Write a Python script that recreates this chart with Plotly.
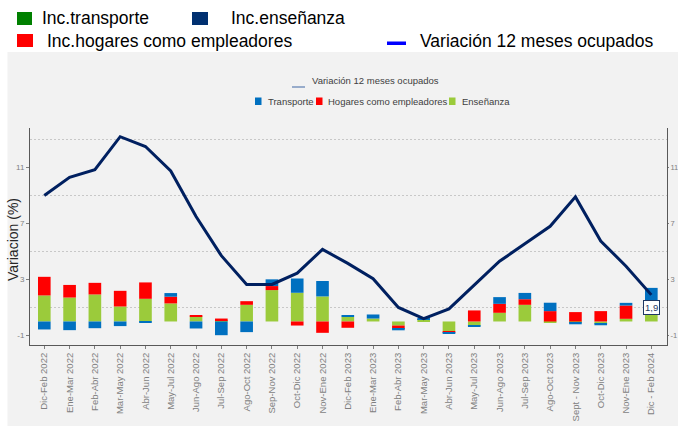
import plotly.graph_objects as go

# ---------------- data ----------------
cats = ["Dic-Feb 2022", "Ene-Mar 2022", "Feb-Abr 2022", "Mar-May 2022", "Abr-Jun 2022",
        "May-Jul 2022", "Jun-Ago 2022", "Jul-Sep 2022", "Ago-Oct 2022", "Sep-Nov 2022",
        "Oct-Dic 2022", "Nov-Ene 2022", "Dic-Feb 2023", "Ene-Mar 2023", "Feb-Abr 2023",
        "Mar-May 2023", "Abr-Jun 2023", "May-Jul 2023", "Jun-Ago 2023", "Jul-Sep 2023",
        "Ago-Oct 2023", "Sept - Nov 2023", "Oct-Dic 2023", "Nov-Ene 2023", "Dic - Feb 2024"]

variacion_ocupados = [9.0, 10.3, 10.85, 13.2, 12.5, 10.75, 7.5, 4.7, 2.65, 2.65,
                      3.45, 5.15, 4.15, 3.05, 1.0, 0.2, 0.9, 2.6, 4.3, 5.55,
                      6.8, 8.9, 5.75, 3.95, 1.9]

ensenanza = [1.86, 1.71, 1.93, 1.07, 1.62, 1.29, 0.36, 0.07, 1.19, 2.24,
             2.05, 1.79, 0.33, 0.21, -0.29, 0.12, -0.71, -0.31, 0.62, 1.19,
             -0.07, -0.1, -0.17, 0.19, 0.55]

hogares = [1.33, 0.9, 0.83, 1.12, 1.17, 0.48, 0.1, 0.14, 0.26, 0.29,
           -0.29, -0.81, -0.45, 0.0, -0.24, 0.05, -0.07, 0.79, 0.64, 0.4,
           0.74, 0.67, 0.74, 0.95, 0.05]

transporte = [-0.57, -0.62, -0.48, -0.33, -0.07, 0.26, -0.5, -0.98, -0.76, 0.48,
              1.02, 1.1, 0.1, 0.29, -0.1, 0.05, -0.05, -0.05, 0.48, 0.45,
              0.6, -0.1, -0.1, 0.19, 1.8]

y_tick_vals = [-1, 3, 7, 11]
y_grid_vals = [1, 5, 9, 13]

# ---------------- styling ----------------
GREEN = "#9BCB3B"
RED = "#FF0000"
BLUE = "#0070C0"
NAVY = "#002060"
PANEL = "#F2F2F2"
AXIS = "#595959"
TICKTXT = "#7F7F7F"
SANS = "Liberation Sans, Arial, sans-serif"

W, H = 678, 426
L, R, T, B = 30, 11, 128, 81
PW, PH = W - L - R, H - T - B


def px(x):
    return (x - L) / PW


def py(y):
    return (H - B - y) / PH


fig = go.Figure()
fig.add_bar(x=cats, y=ensenanza, name="Enseñanza", marker_color=GREEN,
            marker_line_width=0, width=0.5)
fig.add_bar(x=cats, y=hogares, name="Hogares como empleadores", marker_color=RED,
            marker_line_width=0, width=0.5)
fig.add_bar(x=cats, y=transporte, name="Transporte", marker_color=BLUE,
            marker_line_width=0, width=0.5)
fig.add_scatter(x=cats, y=variacion_ocupados, mode="lines", name="Variación 12 meses ocupados",
                line=dict(color=NAVY, width=3))
fig.add_scatter(x=[cats[0]], y=[None], yaxis="y2", mode="markers", showlegend=False,
                hoverinfo="skip")

yrange = [-1.68, 13.82]
tickfont_y = dict(family=SANS, size=8, color=TICKTXT)

fig.update_layout(
    width=W, height=H,
    margin=dict(l=L, r=R, t=T, b=B, pad=0, autoexpand=False),
    paper_bgcolor="white",
    plot_bgcolor="rgba(0,0,0,0)",
    barmode="relative",
    showlegend=False,
    xaxis=dict(type="category", range=[-0.565, 24.62], tickangle=-90, automargin=False,
               tickfont=dict(family=SANS, size=9.5, color=TICKTXT),
               showline=True, linecolor=AXIS, linewidth=1,
               ticks="outside", ticklen=3, tickcolor=TICKTXT,
               showgrid=False, zeroline=False),
    yaxis=dict(range=yrange, tickmode="array", tickvals=y_tick_vals, automargin=False,
               ticktext=[str(v) for v in y_tick_vals], tickfont=tickfont_y,
               showline=True, linecolor=AXIS, linewidth=1,
               ticks="outside", ticklen=3, tickcolor=TICKTXT,
               showgrid=False, zeroline=False,
               minor=dict(tickmode="array", tickvals=y_grid_vals, showgrid=True,
                          gridcolor="#C8C8C8", gridwidth=1, griddash="2px,2px", ticks="")),
    yaxis2=dict(range=yrange, overlaying="y", side="right", tickmode="array", automargin=False,
                tickvals=y_tick_vals, ticktext=[str(v) for v in y_tick_vals],
                tickfont=dict(family=SANS, size=7.5, color=TICKTXT),
                showline=True, linecolor=AXIS, linewidth=1,
                ticks="outside", ticklen=1, tickcolor=TICKTXT,
                showgrid=False, zeroline=False),
)

shapes = []
# gray panel
shapes.append(dict(type="rect", xref="paper", yref="paper", x0=px(7.5), x1=px(720),
                   y0=py(470), y1=py(52), fillcolor=PANEL, line=dict(width=0), layer="below"))


def rect(x0, x1, y0, y1, color):
    shapes.append(dict(type="rect", xref="paper", yref="paper", x0=px(x0), x1=px(x1),
                       y0=py(y1), y1=py(y0), fillcolor=color, line=dict(width=0)))


# top legend symbols
rect(17, 32, 12, 25, "#008000")
rect(192, 208, 12, 25, "#003070")
rect(17, 33, 34, 47, "#FF0000")
rect(387, 406, 41.5, 45, "#0000FF")
# inner legend symbols
shapes.append(dict(type="line", xref="paper", yref="paper", x0=px(292), x1=px(305),
                   y0=py(87), y1=py(87), line=dict(color="#5B7DB1", width=1.2)))
rect(255, 261.5, 97.5, 105, BLUE)
rect(316, 322.5, 97.5, 105, RED)
rect(449, 455.5, 97.5, 105, GREEN)
fig.update_layout(shapes=shapes)

ann = []
top_font = dict(family=SANS, size=17.5, color="#000000")
for txt, x, y in [("Inc.transporte", 40, 18.5), ("Inc.enseñanza", 229, 18.5),
                  ("Inc.hogares como empleadores", 45, 41), ("Variación 12 meses ocupados", 418, 41)]:
    ann.append(dict(text=txt, xref="paper", yref="paper", x=px(x), y=py(y),
                    xanchor="left", yanchor="middle", showarrow=False, font=top_font))

in_font = dict(family=SANS, size=9.5, color="#404040")
for txt, x, y in [("Variación 12 meses ocupados", 309.5, 81), ("Transporte", 266, 101.5),
                  ("Hogares como empleadores", 326, 101.5), ("Enseñanza", 459.5, 101.5)]:
    ann.append(dict(text=txt, xref="paper", yref="paper", x=px(x), y=py(y),
                    xanchor="left", yanchor="middle", showarrow=False, font=in_font))

# y-axis title
ann.append(dict(text="Variacion (%)", xref="paper", yref="paper", x=px(13), y=py(240),
                xanchor="center", yanchor="middle", textangle=-90, showarrow=False,
                font=dict(family=SANS, size=14, color="#262626")))

# last value label
last = variacion_ocupados[-1]
ann.append(dict(text=f"{last:.1f}".replace(".", ","), x=cats[-1], y=last, xref="x", yref="y",
                showarrow=False, yshift=-13, bgcolor="white", bordercolor="#1F3864",
                borderwidth=1, borderpad=1,
                font=dict(family=SANS, size=9.5, color="#1F3864")))
fig.update_layout(annotations=ann)

fig.write_html("out.html", config={"displayModeBar": False},
               post_script="document.body.style.margin='0px';document.body.style.padding='0px';")
